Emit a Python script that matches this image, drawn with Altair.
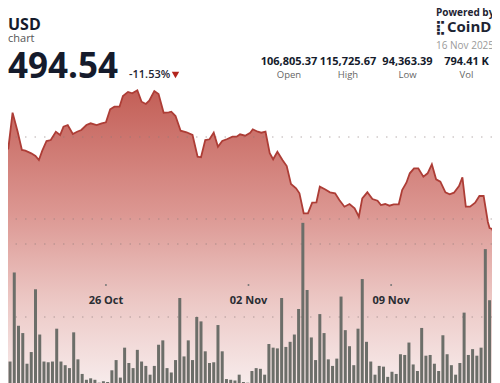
import altair as alt
import pandas as pd

# ---------------- data ----------------
# hourly offsets are counted from 21 Oct 2025 00:00
origin = pd.Timestamp("2025-10-21 00:00")

# volume bars (thousand BTC), one per 5-hour candle starting 21 Oct 02:00
vol_start = "2025-10-21 02:00"
vol_step = "5h"
volumes_k = [6.4, 3.9, 16.1, 8.8, 7.8, 3.6, 5.2, 13.8, 7.6, 3.9,
             3.8, 3.9, 8.4, 3.9, 3.4, 3.0, 7.9, 4.2, 2.2, 1.4,
             1.6, 1.4, 1.0, 1.2, 1.1, 2.7, 4.1, 1.7, 5.8, 3.7,
             3.0, 5.5, 3.9, 3.3, 2.1, 3.3, 6.2, 6.8, 3.0, 2.4,
             4.1, 12.6, 4.6, 6.8, 4.1, 10.0, 9.4, 5.3, 3.7, 3.8,
             8.9, 5.3, 1.5, 1.4, 1.3, 2.1, 1.1, 1.0,
             2.6, 3.0, 2.9, 2.1, 6.3, 5.8, 5.7, 12.6, 5.9, 6.6,
             7.6, 11.1, 22.9, 13.7, 7.2, 4.1, 10.4, 7.8, 4.2, 3.3,
             4.3, 12.8, 8.2, 6.0, 3.4, 8.4, 15.2, 6.6, 3.9, 2.1,
             3.3, 3.2, 1.8, 2.5, 2.2, 4.9, 4.8, 6.5, 3.5, 2.6,
             8.5, 4.7, 4.8, 3.6, 2.6, 7.5, 4.9, 3.4, 2.1, 3.7,
             10.6, 4.8, 5.6, 4.7, 5.8, 19.3, 12.3, 9.9]

# price line (hours since origin, USD)
price_hours = [1, 5, 10, 16, 21, 25, 32, 37, 41, 45, 50, 55, 61, 66, 70, 75, 81, 86, 91, 97,
               102, 109, 115, 120, 125, 130, 136, 140, 146, 151, 157, 162, 167, 171, 177, 182,
               188, 194, 197, 202, 208, 215, 222, 228, 232, 237, 242, 247, 252, 257, 263, 269,
               274, 278, 284, 290, 293, 299, 303, 308, 313, 317, 322, 328, 333, 338, 344, 348,
               353, 358, 363, 368, 372, 378, 384, 390, 395, 401, 407, 413, 418, 422, 428, 434,
               440, 444, 449, 454, 459, 465, 469, 474, 478, 483, 488, 494, 499, 504, 509, 514,
               520, 525, 530, 536, 540, 544, 549, 555, 560, 565, 570, 572, 575, 578, 582]
prices = [108207, 108622, 112963, 110646, 108415, 108329, 108012, 107683, 107195, 108329,
          109512, 109634, 110646, 110244, 111256, 111463, 110366, 110646, 110854, 111463,
          111671, 111463, 111671, 111793, 113378, 113695, 113695, 115000, 115500, 115329,
          115700, 114305, 114024, 114427, 115600, 115244, 112963, 113012, 113085, 112561,
          110768, 110573, 110244, 107598, 107524, 109634, 109720, 110524, 108817, 109512,
          109756, 110037, 110037, 110329, 110159, 110524, 110939, 110646, 110524, 110646,
          108012, 107280, 108207, 107195, 106463, 104268, 103744, 103134, 100695, 100695,
          101988, 102037, 103939, 103622, 103256, 103134, 102317, 101500, 101829, 101305,
          100280, 102524, 103256, 102439, 102232, 101707, 101829, 101622, 101793, 101793,
          103537, 104427, 105573, 106183, 106183, 105159, 105573, 106671, 104841, 104549,
          103256, 103012, 103207, 104024, 105085, 101500, 101500, 101988, 102805, 102805,
          99634, 98902, 98780, 97805, 96829]

date_labels = ["26 Oct", "02 Nov", "09 Nov"]
date_values = ["2025-10-26", "2025-11-02", "2025-11-09"]

price_grid = [100000, 110000]
volume_grid_k = [10, 20]

stat_values = ["106,805.37", "115,725.67", "94,363.39", "794.41 K"]
stat_names = ["Open", "High", "Low", "Vol"]

# ---------------- frames ----------------
bar_times = pd.date_range(vol_start, periods=len(volumes_k), freq=vol_step)
bars_df = pd.DataFrame({"h": (bar_times - origin) / pd.Timedelta(hours=1), "vol": volumes_k})
line_df = pd.DataFrame({"h": price_hours, "price": prices, "base": 80000})
dates_df = pd.DataFrame({"h": (pd.to_datetime(date_values) - origin) / pd.Timedelta(hours=1),
                         "label": date_labels})

W, H = 484, 375
X = alt.X("h:Q", scale=alt.Scale(domain=[10.5, 568.97], nice=False, zero=False), axis=None)
price_scale = alt.Scale(domain=[80000, 125732], nice=False, zero=False)
vol_scale = alt.Scale(domain=[0.959, 52.33], nice=False, zero=False)

grad = alt.Gradient(
    gradient="linear", x1=0, x2=0, y1=0, y2=1,
    stops=[alt.GradientStop(color="#c35f57", offset=0),
           alt.GradientStop(color="#dc9792", offset=0.42),
           alt.GradientStop(color="#ecc8c5", offset=0.72),
           alt.GradientStop(color="#f7ebeb", offset=1)],
)

area = alt.Chart(line_df).mark_area(clip=True, color=grad).encode(
    x=X, y=alt.Y("price:Q", scale=price_scale, axis=None), y2="base:Q")

line = alt.Chart(line_df).mark_line(clip=True, color="#ad3d36", strokeWidth=1.8).encode(
    x=X, y=alt.Y("price:Q", scale=price_scale, axis=None))

grid_p = alt.Chart(pd.DataFrame({"p": price_grid})).mark_rule(
    strokeDash=[1.5, 8], color="#8a7a7a", opacity=0.6, strokeWidth=1.2).encode(
    y=alt.Y("p:Q", scale=price_scale, axis=None))

grid_v = alt.Chart(pd.DataFrame({"v": volume_grid_k})).mark_rule(
    strokeDash=[1.5, 8], color="#8a7a7a", opacity=0.6, strokeWidth=1.2).encode(
    y=alt.Y("v:Q", scale=vol_scale, axis=None))

bars = alt.Chart(bars_df).mark_bar(clip=True, size=3, color="#6c6e69").encode(
    x=X, y=alt.Y("vol:Q", scale=vol_scale, axis=None), y2=alt.datum(0))

dots = alt.Chart(dates_df).mark_circle(size=4, color="#777777", opacity=1).encode(
    x=X, y=alt.value(277))

date_text = alt.Chart(dates_df).mark_text(
    font="Open Sans", fontWeight="bold", fontSize=11, color="#2a2d33", baseline="alphabetic").encode(
    x=X, y=alt.value(296), text="label:N")

one = pd.DataFrame({"a": [0]})


def txt(s, x, y, size, weight="normal", color="#151b2c", align="left", font="Open Sans"):
    return alt.Chart(one).mark_text(
        font=font, fontSize=size, fontWeight=weight, color=color, align=align,
        baseline="alphabetic").encode(x=alt.value(x), y=alt.value(y), text=alt.value(s))


texts = [
    txt("USD", 0, 21.5, 16, "bold"),
    txt("chart", 0, 33.5, 11, color="#555555"),
    txt("$94,494.54", 110, 70, 35, "bold", align="right"),
    txt("-11.53%", 121, 70, 11, 600, color="#1e2433"),
    txt("Powered by", 428, 8, 10, "bold", color="#1e2433"),
    txt("\u28CF", 427, 23.5, 14, "bold", color="#1e2433", font="DejaVu Sans"),
    txt("CoinDesk", 439, 23.5, 15, "bold", color="#1e2433"),
    txt("16 Nov 2025 23:59 UTC", 428, 41, 10, color="#9a9a9a"),
]
stat_x = [281, 340, 399.5, 458.5]
for v, n, cx in zip(stat_values, stat_names, stat_x):
    texts.append(txt(v, cx, 57, 11, "bold", align="center"))
    texts.append(txt(n, cx, 69.5, 9.5, color="#666666", align="center"))

tri = alt.Chart(one).mark_point(shape="triangle-down", filled=True, color="#b3261e", size=55, opacity=1).encode(
    x=alt.value(167.5), y=alt.value(67))

chart = alt.layer(area, grid_p, grid_v, bars, line, dots, date_text, tri, *texts).resolve_scale(
    y="independent").properties(
    width=W, height=H, padding=0, autosize=alt.AutoSizeParams(type="none"),
    background="white").configure_view(strokeWidth=0)

chart.save("out.html", embed_options={"renderer": "svg", "actions": False})
